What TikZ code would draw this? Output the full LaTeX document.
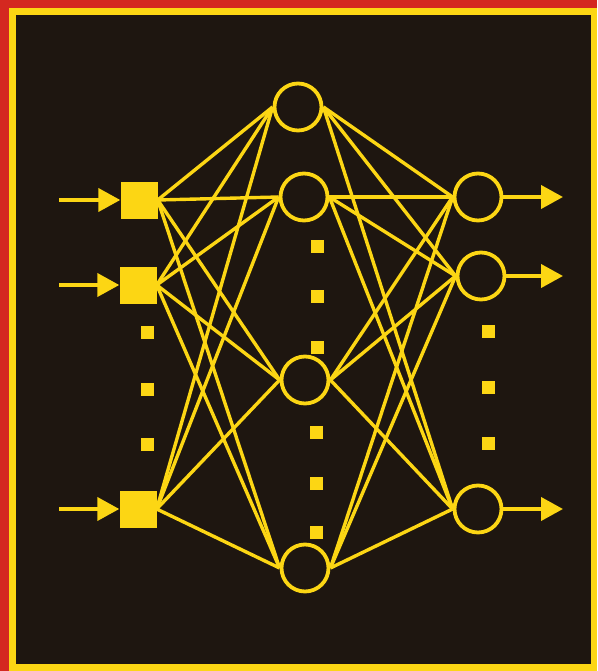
\documentclass[tikz,border=0pt]{standalone}
\usetikzlibrary{arrows.meta}
\definecolor{nnyellow}{RGB}{252,214,20}
\definecolor{nnred}{RGB}{212,40,32}
\definecolor{nnbg}{RGB}{30,22,16}
\begin{document}
\begin{tikzpicture}[x=1pt,y=-1pt,
  neuron/.style={circle,draw=nnyellow,line width=3.8pt,minimum size=47pt,inner sep=0pt},
  inbox/.style={rectangle,fill=nnyellow,minimum size=37pt,inner sep=0pt},
  dotbox/.style={rectangle,fill=nnyellow,minimum size=13pt,inner sep=0pt},
  conn/.style={draw=nnyellow,line width=3.4pt},
  arr/.style={draw=nnyellow,line width=4pt,-{Triangle[length=22pt,width=23pt]},fill=nnyellow}]
\useasboundingbox (0,0) rectangle (597,671);
\fill[nnred] (0,0) rectangle (597,671);
\fill[nnyellow] (9,8) rectangle (597,671);
\fill[nnbg] (16,15) rectangle (591,664);
% input squares
\node[inbox] (i1) at (139,200) {};
\node[inbox] (i2) at (138,285) {};
\node[inbox] (i3) at (138,509) {};
% hidden circles
\node[neuron] (h1) at (298,107) {};
\node[neuron] (h2) at (304,197) {};
\node[neuron] (h3) at (305,380) {};
\node[neuron] (h4) at (305,568) {};
% output circles
\node[neuron] (o1) at (478,197) {};
\node[neuron] (o2) at (481,276) {};
\node[neuron] (o3) at (478,509) {};
% dots
\node[dotbox] (di1) at (147,332) {};
\node[dotbox] (di2) at (147,389) {};
\node[dotbox] (di3) at (147,444) {};
\node[dotbox] (dh1) at (317,246) {};
\node[dotbox] (dh2) at (317,296) {};
\node[dotbox] (dh3) at (317,347) {};
\node[dotbox] (dh4) at (316,432) {};
\node[dotbox] (dh5) at (316,483) {};
\node[dotbox] (dh6) at (316,532) {};
\node[dotbox] (do1) at (488,331) {};
\node[dotbox] (do2) at (488,387) {};
\node[dotbox] (do3) at (488,443) {};
% connections
\foreach \i in {i1,i2,i3}
  \foreach \h in {h1,h2,h3,h4}
    \draw[conn] (\i.east) -- (\h.west);
\foreach \h in {h1,h2,h3,h4}
  \foreach \o in {o1,o2,o3}
    \draw[conn] (\h.east) -- (\o.west);
% input arrows
\coordinate (a1) at (59,200);
\coordinate (a2) at (59,285);
\coordinate (a3) at (59,509);
\draw[arr] (a1) -- (i1.west);
\draw[arr] (a2) -- (i2.west);
\draw[arr] (a3) -- (i3.west);
% output arrows
\coordinate (b1) at (563,197);
\coordinate (b2) at (563,276);
\coordinate (b3) at (563,509);
\draw[arr] (o1.east) -- (b1);
\draw[arr] (o2.east) -- (b2);
\draw[arr] (o3.east) -- (b3);
\end{tikzpicture}
\end{document}
